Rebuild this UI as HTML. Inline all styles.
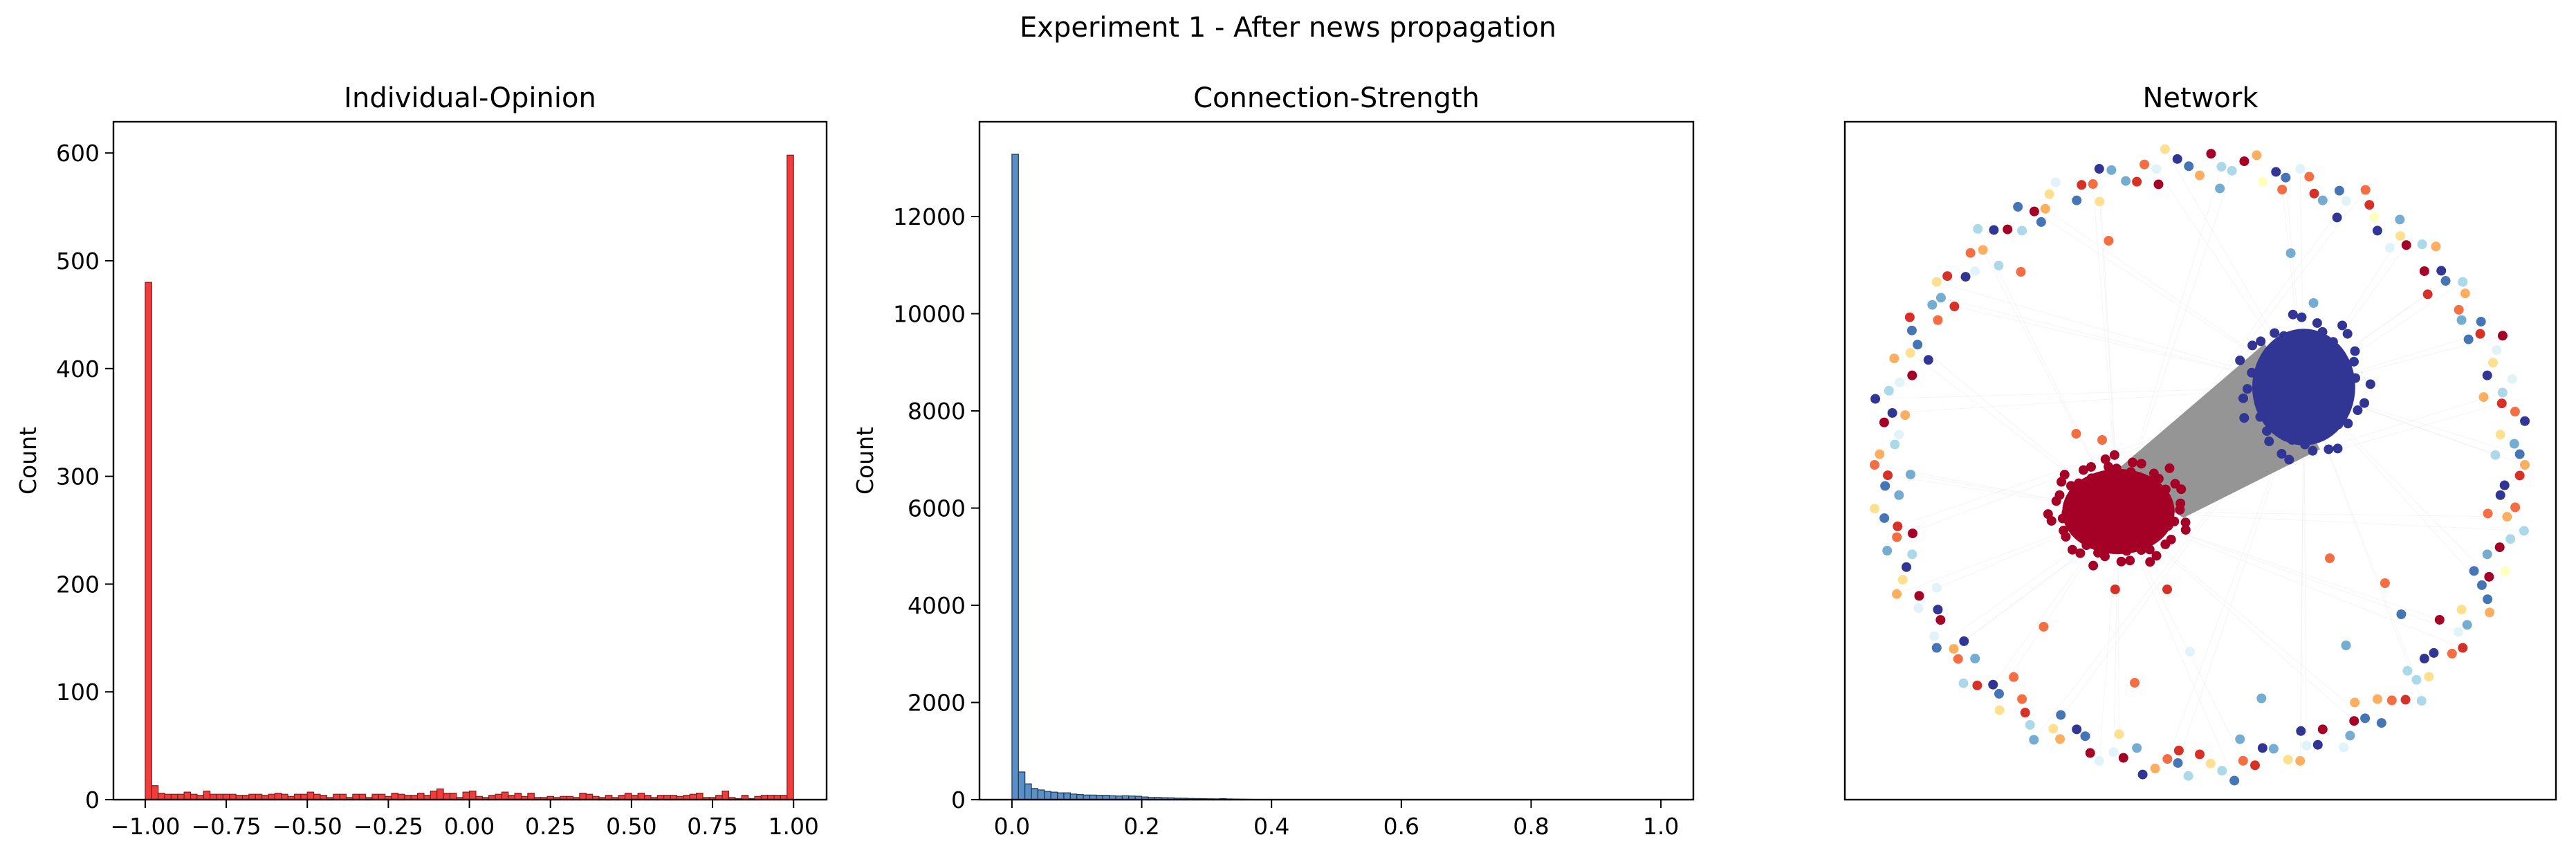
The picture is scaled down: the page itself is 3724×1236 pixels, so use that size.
<!DOCTYPE html>
<html><head><meta charset="utf-8"><style>
html,body{margin:0;padding:0;background:#fff;}
svg{display:block;font-family:"DejaVu Sans","Liberation Sans",sans-serif;}
</style></head><body>
<svg id="fig" width="3724" height="1236" viewBox="0 0 3724 1236" xmlns="http://www.w3.org/2000/svg">
<rect width="3724" height="1236" fill="#fff"/>
<text x="1862" y="53" font-size="40" text-anchor="middle">Experiment 1 - After news propagation</text>
<g id="p1"></g>
<g id="p2"></g>
<g id="p3"></g>
</svg>
<script>
// ---- data ----
const opinionCounts = [480,13,
6,5,5,5,7,5,4,8,5,5,
5,5,4,4,5,5,4,5,6,5,
3,5,5,7,5,4,2,5,5,2,
5,5,2,5,5,3,6,5,4,4,
6,4,8,10,6,6,2,7,8,3,
2,4,5,7,4,6,3,6,2,2,
3,2,3,3,2,6,5,3,2,4,
2,4,6,4,6,4,2,4,4,4,
3,4,5,6,2,2,4,8,2,1,
4,1,3,4,4,4,4,
598];
const opinionBinStart = -1.0, opinionBinWidth = 0.02;
const opinionXTicks = [-1.0,-0.75,-0.5,-0.25,0.0,0.25,0.5,0.75,1.0];
const opinionXTickLabels = ["\u22121.00","\u22120.75","\u22120.50","\u22120.25","0.00","0.25","0.50","0.75","1.00"];
const opinionYTicks = [0,100,200,300,400,500,600];

const strengthCounts = [13280,570,325,230,200,170,155,140,140,115,105,95,95,90,90,80,75,80,75,70,55,45,45,40,38,32,30,25,22,20,18,16,22,15,12,10,8,6,5,4,3,3,2,2,2,2,1,1,1,1,1,1,1,1,1,1,1,1,1,1];
const strengthBinStart = 0.0, strengthBinWidth = 0.01;
const strengthXTicks = [0.0,0.2,0.4,0.6,0.8,1.0];
const strengthXTickLabels = ["0.0","0.2","0.4","0.6","0.8","1.0"];
const strengthYTicks = [0,2000,4000,6000,8000,10000,12000];

// network ring nodes: [angle deg, radius factor, color index]
const ringNodes = [[0,1.0,3],[4,0.97,8],[8,1.01,10],[12,0.95,1],[16,1.0,6],[20,0.96,4],[24,1.02,0],[28,0.98,9],[32,0.94,2],[36,1.0,7],[40,0.97,10],[44,1.01,3],[48,0.95,0],[52,1.0,8],[56,0.96,5],[60,1.02,2],[64,0.98,9],[68,0.94,1],[72,1.0,6],[76,0.97,10],[80,1.01,3],[84,0.95,7],[88,1.0,0],[92,0.96,9],[96,1.02,4],[100,0.98,2],[104,0.94,8],[108,1.0,10],[112,0.97,1],[116,1.01,6],[120,0.95,3],[124,1.0,9],[128,0.96,0],[132,1.02,7],[136,0.98,2],[140,0.94,10],[144,1.0,4],[148,0.97,8],[152,1.01,1],[156,0.95,9],[160,1.0,3],[164,0.96,6],[168,1.02,10],[172,0.98,0],[176,0.94,7],[180,1.0,2],[184,0.97,9],[188,1.01,4],[192,0.95,1],[196,1.0,8],[200,0.96,10],[204,1.02,3],[208,0.98,6],[212,0.94,0],[216,1.0,9],[220,0.97,2],[224,1.01,7],[228,0.95,10],[232,1.0,4],[236,0.96,1],[240,1.02,8],[244,0.98,3],[248,0.94,9],[252,1.0,6],[256,0.97,0],[260,1.01,10],[264,0.95,2],[268,1.0,7],[272,0.96,4],[276,1.02,9],[280,0.98,1],[284,0.94,8],[288,1.0,3],[292,0.97,10],[296,1.01,6],[300,0.95,0],[304,1.0,9],[308,0.96,2],[312,1.02,7],[316,0.98,4],[320,0.94,10],[324,1.0,1],[328,0.97,8],[332,1.01,3],[336,0.95,9],[340,1.0,5],[344,0.96,0],[348,1.02,7],[352,0.98,2],[356,0.94,10],
[2,0.91,7],[14,0.9,3],[26,0.92,9],[38,0.89,1],[50,0.91,6],[62,0.9,10],[74,0.92,2],[86,0.89,8],[98,0.91,0],[110,0.9,4],[122,0.92,9],[134,0.89,7],[146,0.91,1],[158,0.9,10],[170,0.92,3],[182,0.89,8],[194,0.91,0],[206,0.9,6],[218,0.92,10],[230,0.89,2],[242,0.91,9],[254,0.9,4],[266,0.92,1],[278,0.89,8],[290,0.91,10],[302,0.9,3],[314,0.92,7],[326,0.89,0],[338,0.91,9],[350,0.9,2],
[2,0.985,9],[6,0.93,4],[10,0.985,2],[14,0.96,7],[18,0.93,10],[22,0.985,6],[26,0.96,1],[30,0.93,8],[34,0.985,3],[38,0.96,9],[42,0.93,0],[46,0.985,7],[50,0.96,4],[54,0.93,10],[58,0.985,1],[62,0.96,6],[66,0.93,8],[70,0.985,2],[74,0.96,9],[78,0.93,5],[82,0.985,0],[86,0.96,7],[90,0.93,3],[94,0.985,10],[98,0.96,6],[102,0.93,1],[106,0.985,8],[110,0.96,2],[114,0.93,9],[118,0.985,4],[122,0.96,0],[126,0.93,7],[130,0.985,10],[134,0.96,3],[138,0.93,6],[142,0.985,1],[146,0.96,8],[150,0.93,2],[154,0.985,9],[158,0.96,4],[162,0.93,0],[166,0.985,7],[170,0.96,10],[174,0.93,6],[178,0.985,3],[182,0.96,1],[186,0.93,8],[190,0.985,9],[194,0.96,2],[198,0.93,7],[202,0.985,4],[206,0.96,0],[210,0.93,10],[214,0.985,6],[218,0.96,3],[222,0.93,8],[226,0.985,1],[230,0.96,9],[234,0.93,2],[238,0.985,7],[242,0.96,4],[246,0.93,10],[250,0.985,0],[254,0.96,6],[258,0.93,8],[262,0.985,3],[266,0.96,9],[270,0.93,1],[274,0.985,7],[278,0.96,2],[282,0.93,10],[286,0.985,4],[290,0.96,6],[294,0.93,0],[298,0.985,8],[302,0.96,9],[306,0.93,3],[310,0.985,1],[314,0.96,7],[318,0.93,10],[322,0.985,2],[326,0.96,6],[330,0.93,4],[334,0.985,9],[338,0.96,0],[342,0.93,8],[346,0.985,7],[350,0.96,3],[354,0.93,10],[358,0.985,1]];
// inner stray nodes: [x, y] in layout units (-1..1), color index
const strayNodes = [[-0.55,0.62,2],[-0.28,0.72,2],[0.28,0.68,8],[0.35,0.52,8],[-0.38,0.1,2],[-0.3,0.08,2],[0.4,-0.3,2],[0.57,-0.38,2],[-0.48,-0.52,2],[-0.03,-0.6,6],[0.45,-0.58,8],[-0.2,-0.7,2],[0.62,-0.48,9],[-0.26,-0.4,1],[-0.1,-0.4,1],[0.19,-0.75,8]];
const palette = ['#a50026','#d73027','#f46d43','#fdae61','#fee090','#ffffbf','#e0f3f8','#abd9e9','#74add1','#4575b4','#313695'];
// clusters: center x, y (layout units), spread x, y, count
const clusterRed = [-0.25, -0.15, 0.24, 0.19, 420];
const clusterBlue = [0.32, 0.25, 0.22, 0.26, 300];

const NS = "http://www.w3.org/2000/svg";
function mk(parent, tag, attrs){const e=document.createElementNS(NS,tag);for(const k in attrs)e.setAttribute(k,attrs[k]);parent.appendChild(e);return e;}

function histogram(g, o){
  const L=o.left,R=o.right,T=176,B=1156;
  const sx=v=>L+(v-o.xmin)/(o.xmax-o.xmin)*(R-L);
  const sy=v=>B-v/o.ymax*(B-T);
  const bars=mk(g,'g',{});
  
  
  o.counts.forEach((c,i)=>{
    if(c<=0)return;
    const x0=sx(o.start+i*o.width), x1=sx(o.start+(i+1)*o.width);
    const r=mk(bars,'rect',{x:x0,y:sy(c),width:x1-x0,height:B-sy(c),fill:o.fill,stroke:o.edge,'stroke-width':1.2});
    
    
  });
  const frame=mk(g,'rect',{x:L,y:T,width:R-L,height:B-T,fill:'none',stroke:'#000','stroke-width':2.4});
  
  
  o.xticks.forEach((v,i)=>{
    const x=sx(v);
    mk(g,'line',{x1:x,x2:x,y1:B,y2:B+12,stroke:'#000','stroke-width':2});
    const t=mk(g,'text',{x:x,y:B+50,'font-size':33,'text-anchor':'middle'});
    t.textContent=o.xlabels[i];
    
    
  });
  o.yticks.forEach(v=>{
    const y=sy(v);
    mk(g,'line',{x1:L-12,x2:L,y1:y,y2:y,stroke:'#000','stroke-width':2});
    const t=mk(g,'text',{x:L-20,y:y+12,'font-size':33,'text-anchor':'end'});
    t.textContent=String(v);
    
    
  });
  const yl=mk(g,'text',{x:0,y:0,'font-size':33,'text-anchor':'middle',transform:`translate(${o.ylabelX},${(T+B)/2}) rotate(-90)`});
  yl.textContent='Count';
  
  
  const tt=mk(g,'text',{x:(L+R)/2,y:155,'font-size':40,'text-anchor':'middle'});
  tt.textContent=o.title;
  
  
}

histogram(document.getElementById('p1'),{left:164,right:1195,xmin:-1.098,xmax:1.102,ymax:629,counts:opinionCounts,start:opinionBinStart,width:opinionBinWidth,fill:'#f23b3b',edge:'#7a1f1f',xticks:opinionXTicks,xlabels:opinionXTickLabels,yticks:opinionYTicks,ylabelX:52,title:'Individual-Opinion'});
histogram(document.getElementById('p2'),{left:1416,right:2448,xmin:-0.05,xmax:1.05,ymax:13950,counts:strengthCounts,start:strengthBinStart,width:strengthBinWidth,fill:'#5a8fc7',edge:'#1f3550',xticks:strengthXTicks,xlabels:strengthXTickLabels,yticks:strengthYTicks,ylabelX:1262,title:'Connection-Strength'});

// network
(function(){
  const g=document.getElementById('p3');
  const L=2667,R=3695,T=176,B=1156;
  const cx=3180, cy=672, rx=470, ry=450;
  const px=u=>cx+u*rx, py=v=>cy-v*ry;
  const tt=mk(g,'text',{x:(L+R)/2,y:155,'font-size':40,'text-anchor':'middle'});
  tt.textContent='Network';
  
  
  const edges=mk(g,'g',{});
  
  
  ringNodes.forEach((n,i)=>{
    if(i%3)return;
    const a=n[0]*Math.PI/180;
    const c=(i%2)?clusterRed:clusterBlue;
    mk(edges,'line',{x1:px(Math.cos(a)*n[1]),y1:py(Math.sin(a)*n[1]),x2:px(c[0]),y2:py(c[1]),stroke:'#e4e4e4','stroke-width':1,opacity:0.35});
  });
  const band=mk(edges,'polygon',{points:`${px(clusterRed[0]-0.02)},${py(clusterRed[1]+0.12)} ${px(clusterBlue[0]-0.12)},${py(clusterBlue[1]+0.14)} ${px(clusterBlue[0]+0.05)},${py(clusterBlue[1]-0.2)} ${px(clusterRed[0]+0.2)},${py(clusterRed[1]-0.02)}`,fill:'#8a8a8a',opacity:0.9});
  
  
  const nodes=mk(g,'g',{});
  
  
  ringNodes.forEach(n=>{
    const a=n[0]*Math.PI/180;
    const c=mk(nodes,'circle',{cx:px(Math.cos(a)*n[1]),cy:py(Math.sin(a)*n[1]),r:7,fill:palette[n[2]]});
    
    
  });
  strayNodes.forEach(n=>{
    const c=mk(nodes,'circle',{cx:px(n[0]),cy:py(n[1]),r:7,fill:palette[n[2]]});
    
    
  });
  function cluster(cl,color,name){
    const cg=mk(nodes,'g',{});
    
    
    mk(cg,'ellipse',{cx:px(cl[0]),cy:py(cl[1]),rx:cl[2]*rx*0.72,ry:cl[3]*ry*0.72,fill:color});
    const n=cl[4];
    for(let i=0;i<n;i+=3){
      const a=i*2.39996, rr=Math.sqrt(i/n)*(0.85+0.2*Math.sin(i*0.7));
      mk(cg,'circle',{cx:px(cl[0]+Math.cos(a)*rr*cl[2]),cy:py(cl[1]+Math.sin(a)*rr*cl[3]),r:7,fill:color});
    }
  }
  cluster(clusterRed,'#a50026','red-cluster');
  cluster(clusterBlue,'#313695','blue-cluster');
  const frame=mk(g,'rect',{x:L,y:T,width:R-L,height:B-T,fill:'none',stroke:'#000','stroke-width':2.4});
  
  
})();
</script>
</body></html>
